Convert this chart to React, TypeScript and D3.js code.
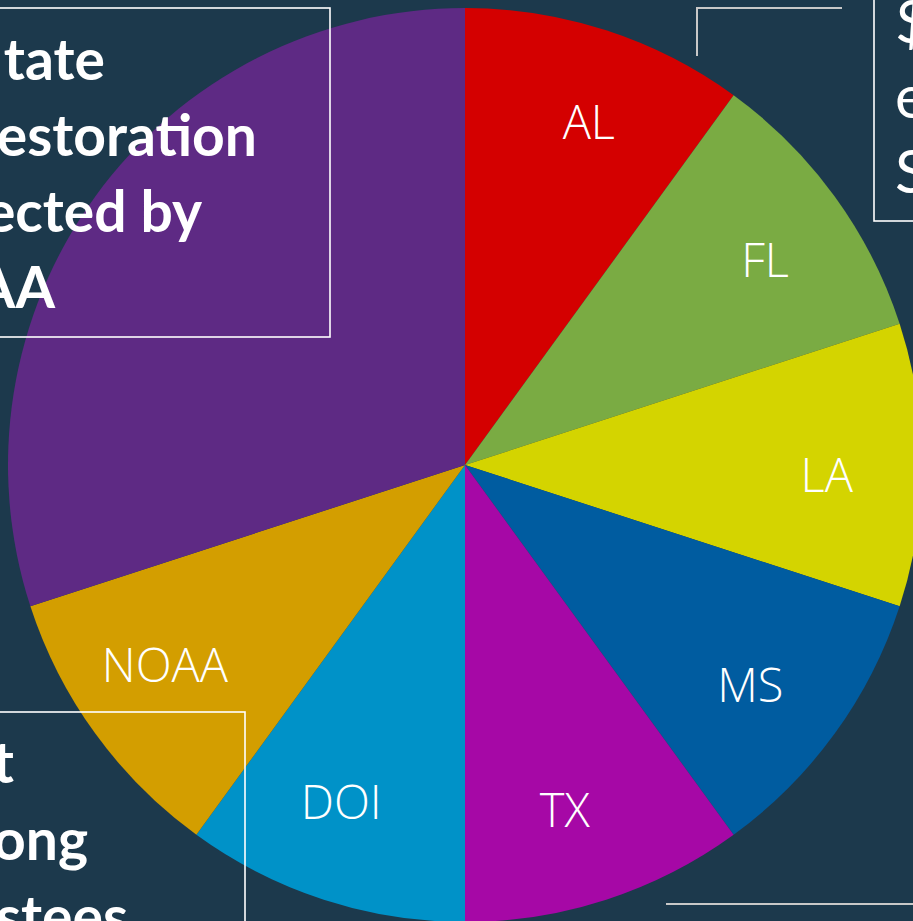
import React from "react";
import * as d3 from "d3";

const categories = ["AL", "FL", "LA", "MS", "TX", "DOI", "NOAA", "Trustee Selected"];
const values = [1, 1, 1, 1, 1, 1, 1, 3];
const sliceLabels = ["AL", "FL", "LA", "MS", "TX", "DOI", "NOAA", ""];
const sliceColors = ["#d40000", "#7aab43", "#d4d400", "#005ca0", "#a608a6", "#0092c8", "#d39e00", "#5e2a84"];

// visible fragments of the annotation boxes (they run off the slide edge)
const leftBoxLines = ["tate", "estoration", "ected by", "AA"];
const rightBoxLines = ["$", "e", "S"];
const bottomBoxLines = ["t", "ong", "stees"];

const W = 913;
const H = 921;
const BG = "#1c394c";

export default function App() {
  const cx = 465;
  const cy = 465;
  const R = 457;
  const pie = d3.pie<number>().sort(null).value((d) => d).startAngle(0).endAngle(2 * Math.PI);
  const arcs = pie(values);
  const arcGen = d3.arc<d3.PieArcDatum<number>>().innerRadius(0).outerRadius(R);
  const labelR = 362;
  const labelShift = (2 * Math.PI) / 180;

  const boldFont = "Lato, 'Liberation Sans', sans-serif";
  const lightFont = "'Open Sans', Lato, sans-serif";
  const leftEnds = [105, 257, 202, 55];
  const bottomEnds = [14, 88, 128];

  return (
    <svg
      width={W}
      height={H}
      style={{ position: "absolute", left: 0, top: 0, background: BG, display: "block" }}
    >
      <rect x={0} y={0} width={W} height={H} fill={BG} />
      <g transform={`translate(${cx},${cy})`}>
        {arcs.map((a, i) => (
          <path key={categories[i]} d={arcGen(a) || ""} fill={sliceColors[i]} />
        ))}
        {arcs.map((a, i) => {
          const mid = (a.startAngle + a.endAngle) / 2 + labelShift;
          const lx = Math.sin(mid) * labelR;
          const ly = -Math.cos(mid) * labelR;
          return sliceLabels[i] ? (
            <text
              key={"l" + i}
              x={lx}
              y={ly}
              dy="0.3em"
              textAnchor="middle"
              fill="#ffffff"
              fontFamily={lightFont}
              fontWeight={300}
              fontSize={47}
            >
              {sliceLabels[i]}
            </text>
          ) : null;
        })}
      </g>

      {/* top-left annotation box */}
      <rect x={-10} y={8} width={340} height={329} fill="none" stroke="#ffffff" strokeWidth={1.6} />
      {leftBoxLines.map((t, i) => (
        <text
          key={"tl" + i}
          x={leftEnds[i]}
          y={80 + i * 76}
          textAnchor="end"
          fill="#ffffff"
          fontFamily={boldFont}
          fontWeight={700}
          fontSize={57}
        >
          {t}
        </text>
      ))}

      {/* top-right bracket */}
      <path d="M697,56 V8 H842" fill="none" stroke="#c8c8c8" strokeWidth={2} />

      {/* right annotation box */}
      <rect x={874} y={-10} width={60} height={231} fill="none" stroke="#ffffff" strokeWidth={1.6} />
      {rightBoxLines.map((t, i) => (
        <text
          key={"tr" + i}
          x={895}
          y={43 + i * 75}
          fill="#ffffff"
          fontFamily={boldFont}
          fontWeight={400}
          fontSize={60}
        >
          {t}
        </text>
      ))}

      {/* bottom-left annotation box */}
      <rect x={-10} y={712} width={255} height={230} fill="none" stroke="#ffffff" strokeWidth={1.6} />
      {bottomBoxLines.map((t, i) => (
        <text
          key={"bl" + i}
          x={bottomEnds[i]}
          y={783 + i * 77}
          textAnchor="end"
          fill="#ffffff"
          fontFamily={boldFont}
          fontWeight={700}
          fontSize={57}
        >
          {t}
        </text>
      ))}

      {/* bottom-right rule */}
      <line x1={666} y1={904} x2={W + 5} y2={904} stroke="#c8c8c8" strokeWidth={2} />
    </svg>
  );
}
